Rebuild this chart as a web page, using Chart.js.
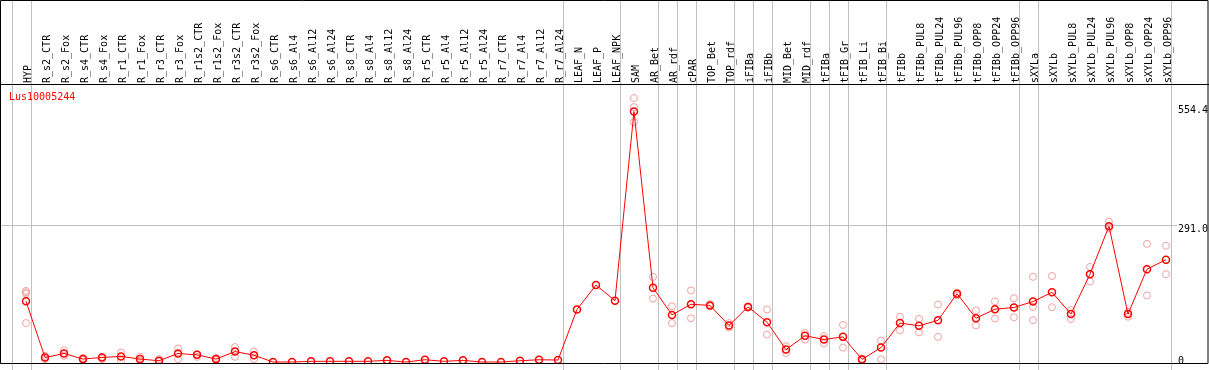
<!DOCTYPE html>
<html>
<head>
<meta charset="utf-8">
<script src="https://cdn.jsdelivr.net/npm/chart.js@4.4.1/dist/chart.umd.min.js"></script>
<style>
  html, body { margin: 0; padding: 0; background: #fff; }
  canvas { display: block; background: #fff; }
</style>
</head>
<body>
<canvas id="expr" width="1209" height="370"></canvas>
<script>
const geneId = 'Lus10005244';

const categories = [
  'HYP', 'R_s2_CTR', 'R_s2_Fox', 'R_s4_CTR', 'R_s4_Fox', 'R_r1_CTR', 'R_r1_Fox', 'R_r3_CTR', 'R_r3_Fox',
  'R_r1s2_CTR', 'R_r1s2_Fox', 'R_r3s2_CTR', 'R_r3s2_Fox', 'R_s6_CTR', 'R_s6_Al4', 'R_s6_Al12', 'R_s6_Al24',
  'R_s8_CTR', 'R_s8_Al4', 'R_s8_Al12', 'R_s8_Al24', 'R_r5_CTR', 'R_r5_Al4', 'R_r5_Al12', 'R_r5_Al24',
  'R_r7_CTR', 'R_r7_Al4', 'R_r7_Al12', 'R_r7_Al24', 'LEAF_N', 'LEAF_P', 'LEAF_NPK', 'SAM', 'AR_Bet', 'AR_rdf',
  'cPAR', 'TOP_Bet', 'TOP_rdf', 'iFIBa', 'iFIBb', 'MID_Bet', 'MID_rdf', 'tFIBa', 'tFIB_Gr', 'tFIB_Li', 'tFIB_Bi',
  'tFIBb', 'tFIBb_PUL8', 'tFIBb_PUL24', 'tFIBb_PUL96', 'tFIBb_OPP8', 'tFIBb_OPP24', 'tFIBb_OPP96',
  'sXYLa', 'sXYLb', 'sXYLb_PUL8', 'sXYLb_PUL24', 'sXYLb_PUL96', 'sXYLb_OPP8', 'sXYLb_OPP24', 'sXYLb_OPP96'
];

// mean expression per sample
const means = [
  123, -1, 7.8, -4.5, -1, 1.3, -4.5, -8.2, 7.8, 4.8, -4.5, 12, 4,
  -11, -11, -9.5, -9.5, -9.5, -9.5, -7.4, -11, -6, -9.5, -7.4, -11, -11, -8.2, -6, -6.7,
  105, 159, 124.5, 542, 153, 93, 116.5, 114, 69.6, 110.7, 77, 16.4, 47, 38.7, 44.5, -5.2, 20.8,
  75, 69, 81, 140, 85.6, 105.7, 109.4, 122.4, 143, 95, 183, 289, 95, 194, 215
];

// individual replicates per sample
const replicates = [
  [146, 143, 140, 75], [2.6, -4.5], [15, 2.6], [-2, -6.7], [0.4, -4.5], [10, -8.2], [0.4, -8.2],
  [-4.5, -9.5], [19, -4.5], [6.3, 0.4], [-2, -6.7], [22, 0.4], [12, -4.5],
  [], [], [], [], [], [], [], [], [], [], [], [], [], [], [], [],
  [], [], [],
  [572, 552, 519], [177, 129], [112, 75], [147, 85.6], [117, 112], [75, 65], [112, 109], [105, 49.5],
  [24, 9], [53, 38.7], [46, 30], [71, 20.8], [-3.5, -6.7], [36.5, -5.2],
  [89, 59], [84, 54.5], [116, 44.5], [142, 136], [103, 69.6], [123, 84.8], [130, 87.8],
  [177, 110.7, 81.3], [179, 110], [103.6, 84], [199, 167], [299, 284], [100, 89], [250, 136], [245.6, 183]
];

const yTicks = [0, 291.0, 554.4];
const refLine = 291.0;
// last sample index of each experiment group (-1 = left edge)
const groupEnds = [-1, 0, 28, 31, 33, 34, 35, 37, 38, 39, 41, 42, 43, 45, 52, 53, 60];

const FONT = { family: 'DejaVu Sans Mono', size: 10 };

const framePlugin = {
  id: 'frame',
  beforeDraw(chart) {
    const { ctx, scales: { x }, height } = chart;
    ctx.save();
    ctx.strokeStyle = '#c0c0c0';
    ctx.lineWidth = 1;
    groupEnds.forEach(g => {
      const px = Math.round(x.getPixelForValue(g + 0.25)) + 0.5;
      ctx.beginPath();
      ctx.moveTo(px, 0);
      ctx.lineTo(px, height);
      ctx.stroke();
    });
    ctx.restore();
  },
  afterDraw(chart) {
    const { ctx, chartArea, width } = chart;
    ctx.save();
    ctx.strokeStyle = '#000';
    ctx.lineWidth = 1;
    ctx.beginPath();
    ctx.rect(0.5, 0.5, width - 1.5, chartArea.bottom);
    ctx.moveTo(0, chartArea.top + 0.5);
    ctx.lineTo(width, chartArea.top + 0.5);
    ctx.stroke();
    // gene id
    ctx.fillStyle = '#ff0000';
    ctx.font = `${FONT.size}px "${FONT.family}"`;
    ctx.textBaseline = 'middle';
    ctx.fillText(geneId, 9, chartArea.top + 13);
    ctx.restore();
  }
};

new Chart(document.getElementById('expr').getContext('2d'), {
  type: 'line',
  data: {
    datasets: [
      {
        label: 'mean',
        data: means.map((v, i) => ({ x: i, y: v })),
        borderColor: '#ff0000',
        borderWidth: 1,
        pointRadius: 3.5,
        pointBorderWidth: 1.5,
        pointBorderColor: '#ff0000',
        pointBackgroundColor: 'rgba(0,0,0,0)',
        tension: 0,
        order: 0,
      },
      {
        type: 'scatter',
        label: 'replicates',
        data: replicates.flatMap((r, i) => r.map(v => ({ x: i, y: v }))),
        pointRadius: 3.5,
        borderWidth: 1,
        borderColor: '#f2a0a0',
        backgroundColor: 'rgba(0,0,0,0)',
        order: 1,
      },
    ],
  },
  options: {
    responsive: false,
    animation: false,
    layout: { autoPadding: false, padding: { left: 1, right: 1, top: 0, bottom: 1 } },
    plugins: { legend: { display: false }, tooltip: { enabled: false } },
    scales: {
      x: {
        type: 'linear',
        position: 'top',
        bounds: 'data',
        min: -1.316,
        max: 60.58,
        afterBuildTicks: s => { s.ticks = categories.map((_, i) => ({ value: i })); },
        afterFit: s => {
          s.height = 84;
          s.paddingLeft = 0;
          s.paddingRight = 0;
        },
        grid: { display: false, drawTicks: false },
        border: { display: false },
        ticks: {
          autoSkip: false,
          minRotation: 90,
          maxRotation: 90,
          padding: 1,
          labelOffset: 14,
          color: '#000',
          font: FONT,
          callback: v => categories[v],
        },
      },
      y: {
        position: 'right',
        min: -13.2,
        max: 603,
        afterBuildTicks: s => { s.ticks = yTicks.map(v => ({ value: v })); },
        afterFit: s => { s.width = 31; },
        grid: {
          drawTicks: false,
          color: c => (c.tick && c.tick.value === refLine ? '#c0c0c0' : 'rgba(0,0,0,0)'),
        },
        border: { display: false },
        ticks: {
          padding: 1,
          labelOffset: 4,
          color: '#000',
          font: FONT,
          callback: v => (v === 0 ? '0' : v.toFixed(1)),
        },
      },
    },
  },
  plugins: [framePlugin],
});
</script>
</body>
</html>
